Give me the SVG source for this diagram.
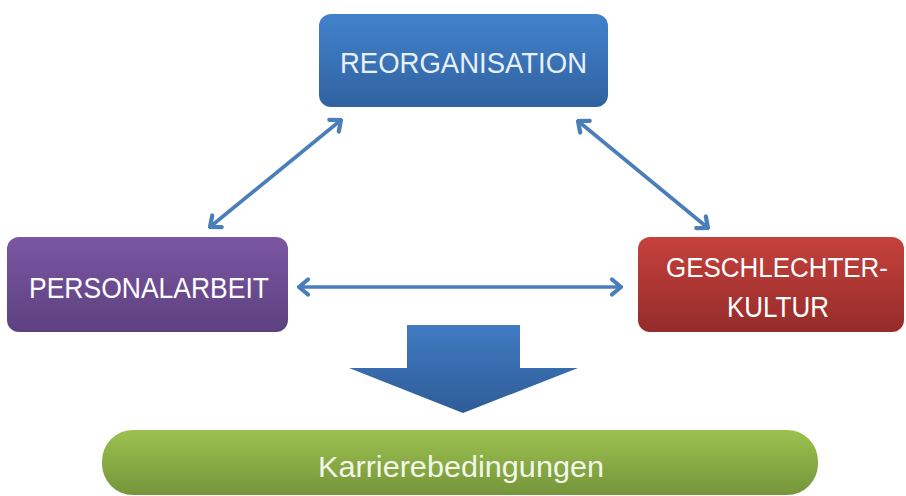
<svg xmlns="http://www.w3.org/2000/svg" width="906" height="496" viewBox="0 0 906 496">
<defs>
<linearGradient id="gBlue" x1="0" y1="0" x2="0" y2="1"><stop offset="0" stop-color="#4282cc"/><stop offset="1" stop-color="#3062a0"/></linearGradient>
<linearGradient id="gPurple" x1="0" y1="0" x2="0" y2="1"><stop offset="0" stop-color="#7b56a3"/><stop offset="1" stop-color="#5d417f"/></linearGradient>
<linearGradient id="gRed" x1="0" y1="0" x2="0" y2="1"><stop offset="0" stop-color="#c5413c"/><stop offset="1" stop-color="#952c2a"/></linearGradient>
<linearGradient id="gGreen" x1="0" y1="0" x2="0" y2="1"><stop offset="0" stop-color="#9dc150"/><stop offset="1" stop-color="#75953a"/></linearGradient>
<linearGradient id="gArrow" x1="0" y1="0" x2="0" y2="1"><stop offset="0" stop-color="#407bc2"/><stop offset="1" stop-color="#2f5c98"/></linearGradient>
<marker id="ah" viewBox="-14 -11 16 22" refX="0" refY="0" markerWidth="16" markerHeight="22" markerUnits="userSpaceOnUse" orient="auto-start-reverse">
<path d="M-9,-7.5 L0,0 L-9,7.5" fill="none" stroke="#4a7ebb" stroke-width="4.2" stroke-linecap="round" stroke-linejoin="miter"/>
</marker>
</defs>
<style>
.lbl{font-family:"Liberation Sans",Arial,sans-serif;font-size:29px;fill:#ffffff;text-anchor:middle}
.conn{stroke:#4a7ebb;stroke-width:3.6;fill:none;marker-start:url(#ah);marker-end:url(#ah)}
</style>
<rect width="906" height="496" fill="#ffffff"/>
<g id="connectors">
<line class="conn" x1="341" y1="120" x2="210" y2="227"/>
<line class="conn" x1="578" y1="121" x2="708" y2="228"/>
<line class="conn" x1="299" y1="287" x2="621" y2="287"/>
</g>
<g id="reorganisation">
<rect x="319" y="14" width="289" height="93" rx="12" fill="url(#gBlue)"/>
<text class="lbl" x="463.5" y="73" textLength="247" lengthAdjust="spacingAndGlyphs" style="fill:#e8f0fb">REORGANISATION</text>
</g>
<g id="personalarbeit">
<rect x="7" y="237" width="281" height="95" rx="12" fill="url(#gPurple)"/>
<text class="lbl" x="149" y="298" textLength="240" lengthAdjust="spacingAndGlyphs">PERSONALARBEIT</text>
</g>
<g id="geschlechterkultur">
<rect x="638" y="237" width="266" height="95" rx="12" fill="url(#gRed)"/>
<text class="lbl" x="777" y="277" style="font-size:27px" textLength="222" lengthAdjust="spacingAndGlyphs">GESCHLECHTER-</text>
<text class="lbl" x="778" y="317" textLength="102" lengthAdjust="spacingAndGlyphs">KULTUR</text>
</g>
<g id="bigarrow">
<polygon points="407,325 520,325 520,368 578,368 463,413 349,368 407,368" fill="url(#gArrow)"/>
</g>
<g id="karrierebedingungen">
<rect x="102" y="430" width="716" height="65" rx="31" fill="url(#gGreen)"/>
<text class="lbl" x="461" y="477" style="font-size:30px;fill:#f2f7ea" textLength="286" lengthAdjust="spacingAndGlyphs">Karrierebedingungen</text>
</g>
</svg>
